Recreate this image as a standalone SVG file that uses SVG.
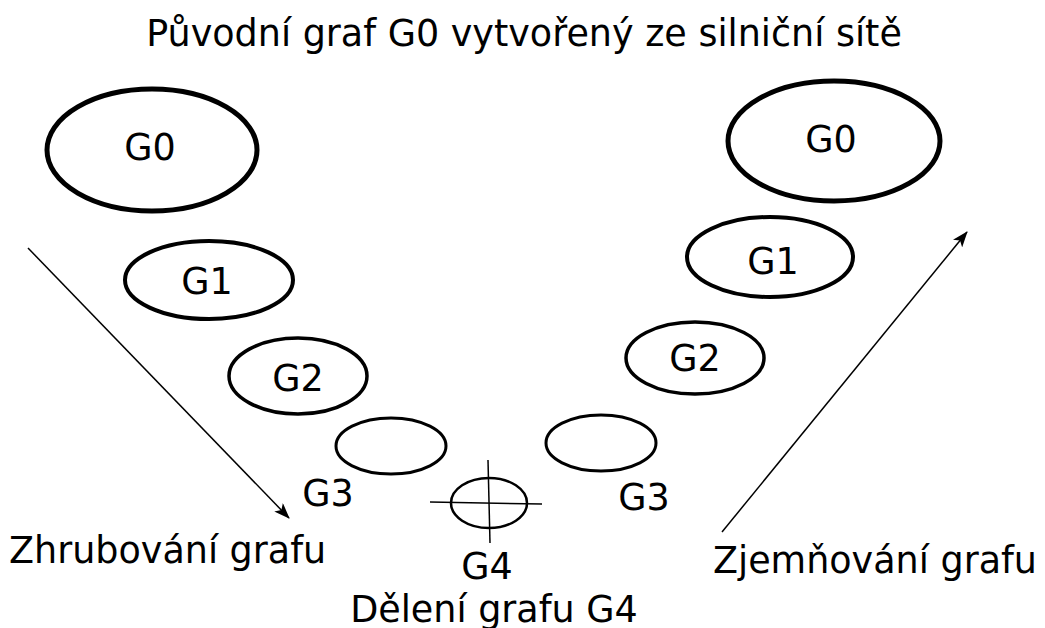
<svg xmlns="http://www.w3.org/2000/svg" width="1045" height="628" viewBox="0 0 1045 628">
  <defs>
    <marker id="arrowhead" viewBox="0 0 16 12" refX="15" refY="6" markerWidth="16" markerHeight="12" markerUnits="userSpaceOnUse" orient="auto">
      <path d="M0,0 L16,6 L0,12 L4,6 Z" fill="#000"/>
    </marker>
  </defs>
  <style>
    text { font-family: "DejaVu Sans", "Liberation Sans", sans-serif; font-size: 36.5px; fill: #000; }
    .lbl { text-anchor: middle; }
    ellipse { fill: none; stroke: #000; }
    .connector { fill: none; stroke: #000; stroke-width: 1.5; }
  </style>
  <rect width="1045" height="628" fill="#fff"/>

  <text class="lbl" x="524" y="46">Původní graf G0 vytvořený ze silniční sítě</text>

  <!-- coarsening side -->
  <g id="left-g0">
    <ellipse cx="152" cy="150" rx="105" ry="61" stroke-width="5"/>
    <text class="lbl" x="150" y="160">G0</text>
  </g>
  <g id="left-g1">
    <ellipse cx="209" cy="280" rx="84" ry="39" stroke-width="4"/>
    <text class="lbl" x="207" y="294">G1</text>
  </g>
  <g id="left-g2">
    <ellipse cx="298" cy="376" rx="69" ry="38" stroke-width="3.5"/>
    <text class="lbl" x="298" y="391">G2</text>
  </g>
  <g id="left-g3">
    <ellipse cx="391" cy="446" rx="55" ry="28" stroke-width="3"/>
    <text class="lbl" x="328" y="506">G3</text>
  </g>

  <!-- partitioned graph -->
  <g id="g4">
    <ellipse cx="489" cy="503" rx="38" ry="25" stroke-width="2.5"/>
    <line x1="430" y1="502" x2="542" y2="504" stroke="#000" stroke-width="1.5"/>
    <line x1="488" y1="460" x2="490" y2="543" stroke="#000" stroke-width="1.5"/>
    <text class="lbl" x="487" y="579">G4</text>
  </g>

  <!-- refinement side -->
  <g id="right-g3">
    <ellipse cx="601" cy="443" rx="55" ry="28" stroke-width="3"/>
    <text class="lbl" x="644" y="510">G3</text>
  </g>
  <g id="right-g2">
    <ellipse cx="695" cy="358" rx="69" ry="36" stroke-width="3.5"/>
    <text class="lbl" x="695" y="371">G2</text>
  </g>
  <g id="right-g1">
    <ellipse cx="770" cy="257" rx="83" ry="40" stroke-width="4"/>
    <text class="lbl" x="773" y="274">G1</text>
  </g>
  <g id="right-g0">
    <ellipse cx="834" cy="141" rx="106" ry="60" stroke-width="5"/>
    <text class="lbl" x="831" y="152">G0</text>
  </g>

  <g id="connectors">
    <line class="connector" x1="28" y1="248" x2="289" y2="518" marker-end="url(#arrowhead)"/>
    <line class="connector" x1="722" y1="532" x2="967" y2="232" marker-end="url(#arrowhead)"/>
  </g>

  <text x="9" y="563">Zhrubování grafu</text>
  <text x="713" y="573">Zjemňování grafu</text>
  <text class="lbl" x="494" y="622">Dělení grafu G4</text>
</svg>
